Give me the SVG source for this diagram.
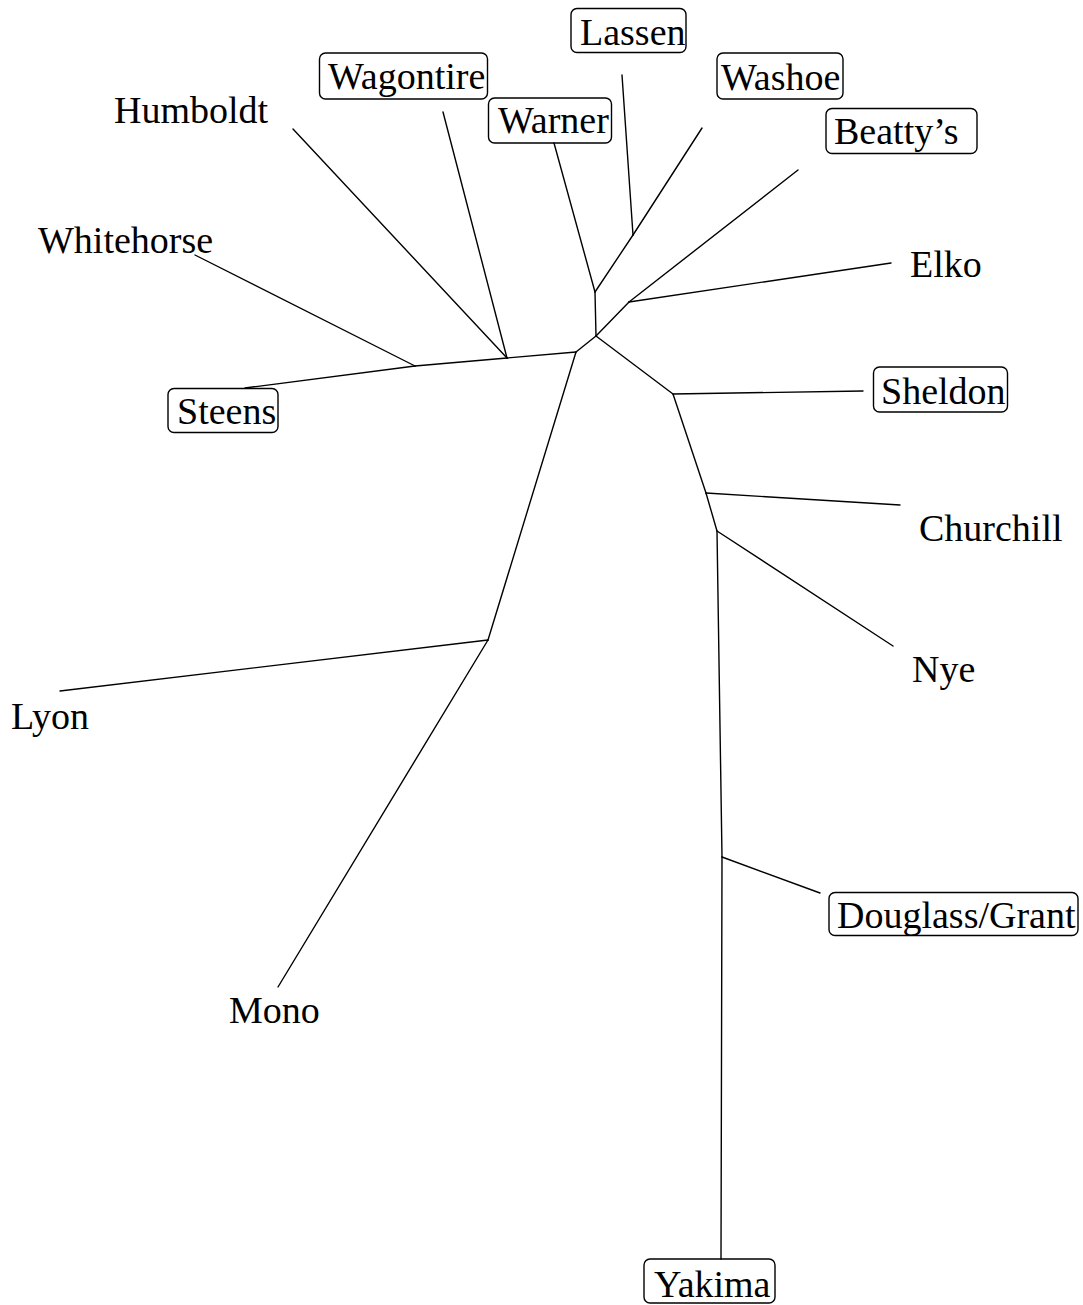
<svg xmlns="http://www.w3.org/2000/svg" width="1083" height="1305" viewBox="0 0 1083 1305">
<style>
.e{stroke:#000;stroke-width:1.4;fill:none;stroke-linecap:round}
.b{stroke:#000;stroke-width:1.4;fill:none}
.t{font-family:"Liberation Serif","Times New Roman",serif;font-size:38px;fill:#000}
</style>
<rect width="1083" height="1305" fill="#fff"/>
<g id="connectors">
<line class="e" x1="596" y1="336" x2="595" y2="292"/>
<line class="e" x1="595" y1="292" x2="554" y2="143"/>
<line class="e" x1="595" y1="292" x2="633" y2="235"/>
<line class="e" x1="633" y1="235" x2="622" y2="75"/>
<line class="e" x1="633" y1="235" x2="702" y2="128"/>
<line class="e" x1="596" y1="336" x2="629" y2="302"/>
<line class="e" x1="629" y1="302" x2="891" y2="263"/>
<line class="e" x1="629" y1="302" x2="798" y2="170"/>
<line class="e" x1="596" y1="336" x2="576" y2="352"/>
<line class="e" x1="576" y1="352" x2="507" y2="358"/>
<line class="e" x1="507" y1="358" x2="293" y2="129"/>
<line class="e" x1="507" y1="358" x2="443" y2="112"/>
<line class="e" x1="507" y1="358" x2="415" y2="366"/>
<line class="e" x1="415" y1="366" x2="195" y2="255"/>
<line class="e" x1="415" y1="366" x2="245" y2="388"/>
<line class="e" x1="576" y1="352" x2="488" y2="640"/>
<line class="e" x1="488" y1="640" x2="60" y2="691"/>
<line class="e" x1="488" y1="640" x2="278" y2="987"/>
<line class="e" x1="596" y1="336" x2="673" y2="394"/>
<line class="e" x1="673" y1="394" x2="863" y2="391"/>
<line class="e" x1="673" y1="394" x2="706" y2="493"/>
<line class="e" x1="706" y1="493" x2="900" y2="505"/>
<line class="e" x1="706" y1="493" x2="717" y2="531"/>
<line class="e" x1="717" y1="531" x2="893" y2="646"/>
<line class="e" x1="717" y1="531" x2="722" y2="857"/>
<line class="e" x1="722" y1="857" x2="820" y2="893"/>
<line class="e" x1="722" y1="857" x2="721" y2="1259"/>
</g>
<g id="Lassen"><rect class="b" x="571" y="8.5" width="115" height="44" rx="6"/><text class="t" x="580" y="45">Lassen</text></g>
<g id="Wagontire"><rect class="b" x="319.5" y="53" width="168" height="46" rx="6"/><text class="t" x="328" y="89">Wagontire</text></g>
<g id="Warner"><rect class="b" x="488.5" y="98" width="123" height="45" rx="6"/><text class="t" x="498" y="133">Warner</text></g>
<g id="Washoe"><rect class="b" x="717" y="53" width="126" height="46" rx="6"/><text class="t" x="721" y="90">Washoe</text></g>
<g id="Beattys"><rect class="b" x="826" y="108.5" width="151" height="45" rx="6"/><text class="t" x="834" y="144">Beatty’s</text></g>
<g id="Humboldt"><text class="t" x="114" y="123">Humboldt</text></g>
<g id="Whitehorse"><text class="t" x="38" y="253">Whitehorse</text></g>
<g id="Elko"><text class="t" x="910" y="277">Elko</text></g>
<g id="Steens"><rect class="b" x="168" y="388.5" width="110" height="44" rx="6"/><text class="t" x="177" y="424">Steens</text></g>
<g id="Sheldon"><rect class="b" x="873.5" y="367" width="134" height="45" rx="6"/><text class="t" x="881" y="404">Sheldon</text></g>
<g id="Churchill"><text class="t" x="919" y="541">Churchill</text></g>
<g id="Nye"><text class="t" x="912" y="682">Nye</text></g>
<g id="Lyon"><text class="t" x="11" y="729">Lyon</text></g>
<g id="Mono"><text class="t" x="229" y="1023">Mono</text></g>
<g id="DouglassGrant"><rect class="b" x="829" y="892.5" width="249" height="43" rx="6"/><text class="t" x="837" y="928">Douglass/Grant</text></g>
<g id="Yakima"><rect class="b" x="644" y="1259" width="131" height="44" rx="6"/><text class="t" x="654" y="1297">Yakima</text></g>
</svg>
